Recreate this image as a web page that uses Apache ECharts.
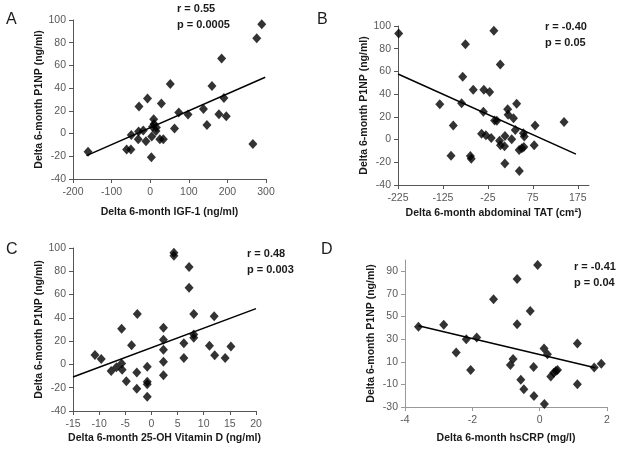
<!DOCTYPE html>
<html><head><meta charset="utf-8">
<script src="https://cdn.jsdelivr.net/npm/echarts@6/dist/echarts.min.js"></script>
<style>html,body{margin:0;padding:0;background:#fff}#c{width:624px;height:450px}</style>
</head><body><div id="c"></div>
<script>
// Panel A: Delta IGF-1 vs Delta P1NP
const igfX = [-161,-61,-50,-49,-31,-30,-29,-18,-11,-7,3,4,6,9,10,16,15,25,34,29,52,63,74,98,138,147,160,178,185,191,197,266,276,289];
const igfY = [-16.1,-14.1,-14.1,-1.2,-5,1.8,23.8,2.6,-6.7,30.8,-20.8,-2.6,5.9,12.6,8.5,5.3,2.3,-5,-5,26.4,43.7,4.4,18.5,16.7,21.7,7.6,41.9,17,66,31.4,15.2,-9.1,83.9,96.2];
const trendA = [[-165,-19.4],[298,49.6]];
// Panel B: Delta abdominal TAT vs Delta P1NP
const tatX = [-223.5,-132,-107,-102,-83.5,-81,-75,-64,-62,-57.6,-39,-35,-34,-29.4,-21,-17.6,-11.7,-10,-5,2.6,1,3,13,12,12.8,19,20,28,32,36,39,44.6,45,50.5,54,55,56,78,80,144.5];
const tatY = [93.5,31,-14.2,12.5,31.9,55.4,83.9,-14.5,-16.9,43.9,5.2,24.6,43.9,3.7,41.9,1.4,95.9,16.9,16.6,66.1,-1,-4.9,3.1,-5.8,-21,26.6,21.9,0.2,18.7,8.4,31.6,-9.2,-27.7,-7.7,5.5,-6.5,2.6,-5.1,12.5,15.4];
const trendB = [[-225,57.7],[171,-12.8]];
// Panel C: Delta 25-OH Vitamin D vs Delta P1NP
const vitX = [-10.8,-9.6,-7.7,-6.7,-5.7,-5.7,-5.6,-4.8,-3.8,-2.8,-2.8,-2.7,-0.8,-0.8,-0.8,-0.8,2.3,2.3,2.3,2.3,2.3,4.3,4.3,6.2,6.2,7.2,7.2,8.1,8.1,8.1,11.1,12,12.1,14.1,15.2];
const vitY = [8.1,4.7,-5.6,-2.5,30.7,0.7,-4.5,-14.5,16.4,-20.8,-7,43.3,-1.9,-14.8,-17.1,-27.7,31.6,21.3,12.7,2.4,-9.4,96,93.4,18.1,5.5,83.7,65.9,43.3,25.6,23,16.1,41.3,7.8,5.5,15.5];
const trendC = [[-15,-10.8],[20,47.9]];
// Panel D: Delta hsCRP vs Delta P1NP
const crpX = [-3.6,-2.85,-2.48,-2.18,-2.05,-1.87,-1.37,-0.87,-0.79,-0.67,-0.67,-0.56,-0.47,-0.28,-0.18,-0.17,-0.06,0.13,0.14,0.23,0.33,0.42,0.48,0.53,1.12,1.12,1.62,1.83];
const crpY = [41,42.8,18.1,30,2.7,31.5,65.3,7.1,12.5,83.2,43.1,-6,-14.3,55,5.3,-20.2,95.6,21.7,-27.3,16.6,-3,0.3,1.8,2.7,26.1,-9.8,5,8.3];
const trendD = [[-3.6,41.9],[1.65,4.7]];
// tick labels
const ticksBX = [-225,-125,-25,75,175];
const ticksDY = [-30,-10,10,30,50,70,90];
const xTitles = ['Delta 6-month IGF-1 (ng/ml)','Delta 6-month abdominal TAT (cm²)','Delta 6-month 25-OH Vitamin D (ng/ml)','Delta 6-month hsCRP (mg/l)'];
const yTitle = 'Delta 6-month P1NP (ng/ml)';
const stats = [['r = 0.55','p = 0.0005'],['r = -0.40','p = 0.05'],['r = 0.48','p = 0.003'],['r = -0.41','p = 0.04']];
const letters = ['A','B','C','D'];

const zip = (a,b)=>a.map((v,i)=>[v,b[i]]);
const FONT = 'Liberation Sans';
const labelStyle = {color:'#595959', fontSize:10.5, fontFamily:FONT};
const nameStyle = {color:'#1a1a1a', fontSize:10.5, fontWeight:'bold', fontFamily:FONT};

const grids = [
  {left:73, top:20, width:193, height:159},
  {left:398, top:26, width:191, height:159},
  {left:73, top:248, width:183, height:163},
  {left:405, top:260, width:202, height:147}
].map(g=>Object.assign({containLabel:false, outerBoundsMode:'none'}, g));

function xAx(i, o, lineColor, nameGap){
  return Object.assign({type:'value', gridIndex:i, name:xTitles[i], nameLocation:'middle', nameGap:nameGap,
    nameTextStyle:nameStyle, splitLine:{show:false},
    axisLine:{onZero:false, lineStyle:{color:lineColor, width:1}},
    axisTick:{show:true, length:4, lineStyle:{color:lineColor}},
    axisLabel:Object.assign({margin:8}, labelStyle)}, o);
}
function yAx(i, o, lineColor, nameGap){
  return Object.assign({type:'value', gridIndex:i, name:yTitle, nameLocation:'middle', nameGap:nameGap,
    nameTextStyle:nameStyle, splitLine:{show:false},
    axisLine:{show:true, onZero:false, lineStyle:{color:lineColor, width:1}},
    axisTick:{show:true, length:4, lineStyle:{color:lineColor}},
    axisLabel:Object.assign({margin:7}, labelStyle)}, o);
}

const xAxes = [
  xAx(0,{min:-200,max:300,interval:100},'#555',28),
  xAx(1,{min:-225,max:200,axisLabel:Object.assign({margin:8,customValues:ticksBX},labelStyle),axisTick:{show:true,length:4,customValues:ticksBX,lineStyle:{color:'#555'}}},'#555',23),
  xAx(2,{min:-15,max:20,interval:5},'#555',22),
  xAx(3,{min:-4,max:2,interval:2},'#999',26)
];
const yAxes = [
  yAx(0,{min:-40,max:100,interval:20},'#555',27),
  yAx(1,{min:-40,max:100,interval:20},'#555',26),
  yAx(2,{min:-40,max:100,interval:20},'#555',26),
  yAx(3,{min:-30,max:100,axisLabel:Object.assign({margin:7,customValues:ticksDY},labelStyle),axisTick:{show:true,length:4,customValues:ticksDY,lineStyle:{color:'#999'}}},'#999',28)
];

const pts = [zip(igfX,igfY), zip(tatX,tatY), zip(vitX,vitY), zip(crpX,crpY)];
const trends = [trendA,trendB,trendC,trendD];
const series = [];
pts.forEach((d,i)=>{
  series.push({type:'line', xAxisIndex:i, yAxisIndex:i, data:trends[i], showSymbol:false, symbol:'none',
    lineStyle:{color:'#000', width:1.5}, silent:true, z:2});
  series.push({type:'scatter', xAxisIndex:i, yAxisIndex:i, data:d, symbol:'diamond', symbolSize:[9,10],
    itemStyle:{color:'#000'}, z:3});
});

const statPos = [[177,10],[545,28],[247,255],[574,268]];
const letterPos = [[6,12],[317,12],[6,242],[321,242]];
const graphic = [];
stats.forEach((s,i)=>{
  graphic.push({type:'text', left:statPos[i][0], top:statPos[i][1]-7, style:{text:s[0], fill:'#1a1a1a', font:'bold 11px '+FONT}});
  graphic.push({type:'text', left:statPos[i][0], top:statPos[i][1]+9, style:{text:s[1], fill:'#1a1a1a', font:'bold 11px '+FONT}});
  graphic.push({type:'text', left:letterPos[i][0], top:letterPos[i][1], style:{text:letters[i], fill:'#1a1a1a', font:'16px '+FONT}});
});

const chart = echarts.init(document.getElementById('c'), null, {renderer:'canvas'});
chart.setOption({animation:false, backgroundColor:'#fff', grid:grids, xAxis:xAxes, yAxis:yAxes, series:series, graphic:graphic});
</script></body></html>
